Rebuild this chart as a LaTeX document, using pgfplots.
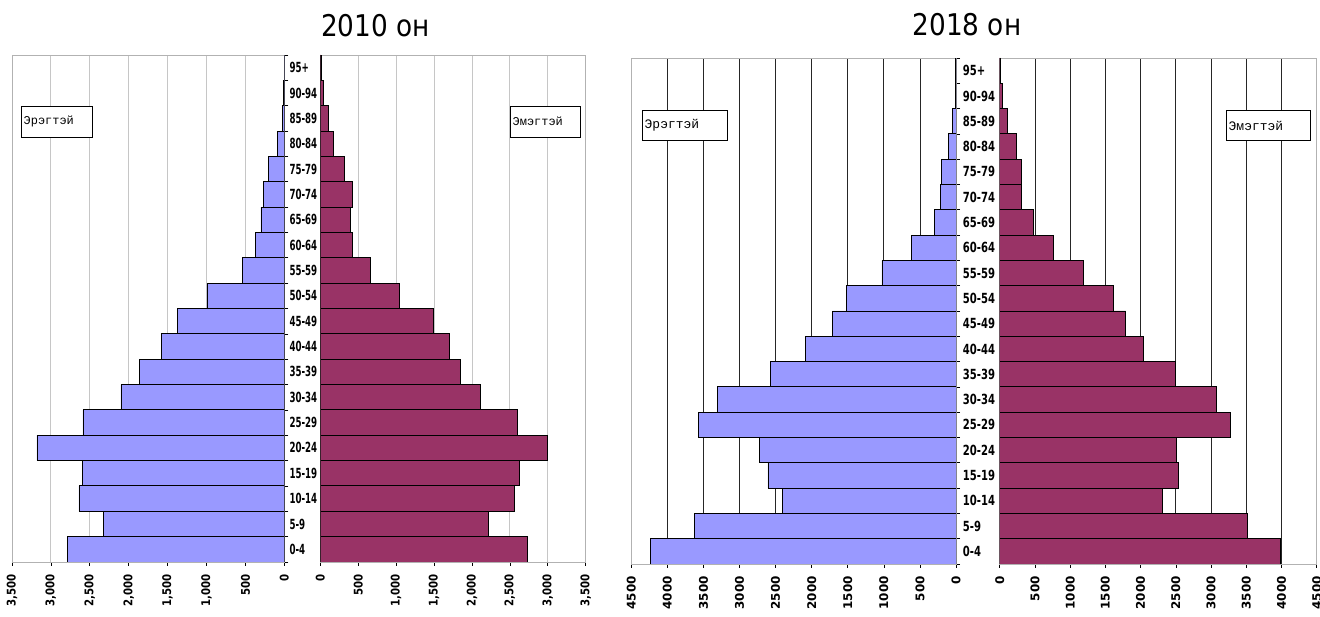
\documentclass[border=0pt]{standalone}
\usepackage{fontspec}
\usepackage{pgfplots}
\usepackage{pgfplotstable}
\pgfplotsset{compat=1.18}
\setmainfont{DejaVu Sans}
\newfontfamily\titlef[FakeStretch=0.88]{DejaVu Sans}
\newfontfamily\catA[FakeStretch=0.62]{DejaVu Sans}
\newfontfamily\catB[FakeStretch=0.72]{DejaVu Sans}
\newfontfamily\tickA[FakeStretch=0.85]{DejaVu Sans}
\newfontfamily\legf{Liberation Mono}
\definecolor{male}{HTML}{9999FF}
\definecolor{female}{HTML}{993366}

% idx, male, female
\pgfplotstableread{
idx m f
0 2789 2735
1 2327 2221
2 2639 2564
3 2596 2630
4 3179 2995
5 2588 2594
6 2099 2106
7 1860 1851
8 1577 1702
9 1375 1495
10 994 1047
11 540 660
12 373 427
13 300 391
14 270 427
15 206 321
16 86 167
17 21 106
18 5 40
19 2 9
}\tenyr
\pgfplotstableread{
idx m f
0 4238 3988
1 3627 3515
2 2408 2308
3 2606 2536
4 2726 2507
5 3563 3273
6 3309 3080
7 2565 2493
8 2089 2039
9 1714 1788
10 1516 1613
11 1026 1192
12 615 762
13 300 473
14 217 307
15 203 307
16 111 241
17 46 109
18 5 38
19 2 9
}\eightyr

\pgfplotsset{
  pyr/.style={
    scale only axis, anchor=south west,
    xbar, bar width=1, bar shift=0pt,
    xmin=0, ymin=-0.5, ymax=19.5,
    xtick pos=bottom, tick align=outside,
    major tick length=4bp,
    tick style={black, line width=0.6bp},
    axis line style={gray!60, line width=0.8bp},
    xmajorgrids,
    /pgf/number format/assume math mode=true,
    xticklabel style={rotate=90, anchor=east, inner sep=0pt, xshift=-8bp},
  },
  malebars/.style={draw=black, line width=0.9bp, fill=male},
  femalebars/.style={draw=black, line width=0.9bp, fill=female},
  catticks/.style={
    ytick pos=right,
    ytick={-0.5,0.5,...,19.5}, yticklabels={},
    extra y ticks={0,...,19},
    extra y tick labels={0-4,5-9,10-14,15-19,20-24,25-29,30-34,35-39,40-44,45-49,50-54,55-59,60-64,65-69,70-74,75-79,80-84,85-89,90-94,95+},
    extra y tick style={major tick length=0pt, yticklabel pos=right,
      yticklabel style={anchor=west, inner sep=0pt}},
  },
}

\begin{document}
\begin{tikzpicture}[x=1bp,y=1bp]
\path[use as bounding box] (0,0) rectangle (1320,617);

% ---------- 2010 ----------
\begin{axis}[pyr, catticks, at={(12bp,55bp)}, width=272.3bp, height=507bp,
  xmax=3500, x dir=reverse, xtick={0,500,...,3500},
  major grid style={gray!45, line width=0.8bp},
  /pgf/number format/1000 sep={,},
  xticklabel style={font=\tickA\bfseries\fontsize{12}{12}\selectfont},
  extra y tick style={yticklabel style={xshift=5bp, font=\catA\bfseries\fontsize{14}{14}\selectfont}}]
\addplot[malebars] table[x=m, y=idx] {\tenyr};
\draw[black, line width=0.8bp] (rel axis cs:1,0) -- (rel axis cs:1,1);
\end{axis}

\begin{axis}[pyr, at={(320.3bp,55bp)}, width=265.4bp, height=507bp,
  xmax=3500, xtick={0,500,...,3500}, ytick=\empty,
  major grid style={gray!45, line width=0.8bp},
  /pgf/number format/1000 sep={,},
  xticklabel style={font=\tickA\bfseries\fontsize{12}{12}\selectfont}]
\addplot[femalebars] table[x=f, y=idx] {\tenyr};
\end{axis}

% ---------- 2018 ----------
\begin{axis}[pyr, catticks, at={(631.3bp,53bp)}, width=324.7bp, height=506bp,
  xmax=4500, x dir=reverse, xtick={0,500,...,4500},
  major grid style={black!85, line width=0.8bp},
  /pgf/number format/1000 sep={},
  xticklabel style={font=\bfseries\fontsize{12}{12}\selectfont},
  extra y tick style={yticklabel style={xshift=6.7bp, font=\catB\bfseries\fontsize{14}{14}\selectfont}}]
\addplot[malebars] table[x=m, y=idx] {\eightyr};
\draw[black, line width=0.8bp] (rel axis cs:1,0) -- (rel axis cs:1,1);
\draw[black, line width=0.8bp] (rel axis cs:0,0) -- (rel axis cs:1,0);
\end{axis}

\begin{axis}[pyr, at={(999.7bp,53bp)}, width=317bp, height=506bp,
  xmax=4500, xtick={0,500,...,4500}, ytick=\empty,
  major grid style={black!85, line width=0.8bp},
  /pgf/number format/1000 sep={},
  xticklabel style={font=\bfseries\fontsize{12}{12}\selectfont}]
\addplot[femalebars] table[x=f, y=idx] {\eightyr};
\draw[black, line width=0.8bp] (rel axis cs:0,0) -- (rel axis cs:1,0);
\end{axis}

% titles
\node[anchor=base, inner sep=0pt, font=\titlef\fontsize{30}{30}\selectfont] at (375.5,580.3) {2010 он};
\node[anchor=base, inner sep=0pt, font=\titlef\fontsize{30}{30}\selectfont] at (967,581) {2018 он};

% series labels
\draw[black, fill=white, line width=0.8bp] (21,479.3) rectangle (92,511);
\node[anchor=west, inner sep=0pt, font=\legf\fontsize{12}{12}\selectfont] at (23.5,495.2) {Эрэгтэй};
\draw[black, fill=white, line width=0.8bp] (510,479.3) rectangle (580.7,511);
\node[anchor=west, inner sep=0pt, font=\legf\fontsize{12}{12}\selectfont] at (512.5,495.2) {Эмэгтэй};
\draw[black, fill=white, line width=0.8bp] (642,476.3) rectangle (727,506.3);
\node[anchor=west, inner sep=0pt, font=\legf\fontsize{13}{13}\selectfont] at (644.5,491.3) {Эрэгтэй};
\draw[black, fill=white, line width=0.8bp] (1226,476.3) rectangle (1310.7,506.3);
\node[anchor=west, inner sep=0pt, font=\legf\fontsize{13}{13}\selectfont] at (1228.5,491.3) {Эмэгтэй};
\end{tikzpicture}
\end{document}
